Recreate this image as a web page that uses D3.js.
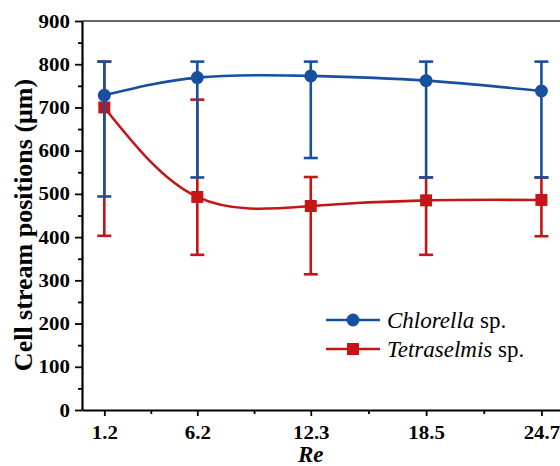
<!DOCTYPE html>
<html>
<head>
<meta charset="utf-8">
<script src="https://cdn.jsdelivr.net/npm/d3@7"></script>
</head>
<body style="margin:0">
<svg id="fig" width="560" height="466"></svg>
<script>
// Colours and font
const BLUE = "#17509f";
const RED = "#c41616";
const FONT = "Liberation Serif";

// Chart data
const reValues = [1.2, 6.2, 12.3, 18.5, 24.7];
const reLabels = ["1.2", "6.2", "12.3", "18.5", "24.7"];
const chlorellaMean = [728, 769, 773, 762, 738];
const chlorellaUpper = [806, 806, 806, 806, 806];
const chlorellaLower = [494, 538, 583, 538, 538];
const tetraMean = [700, 493, 472, 485, 486];
const tetraUpper = [806, 718, 539, 538, 538];
const tetraLower = [403, 359, 314, 359, 402];
const yTicks = [0, 100, 200, 300, 400, 500, 600, 700, 800, 900];

const W = 560;

const svg = d3.select("#fig");

// Scales (x runs past the right edge, like the cropped original)
const x = d3.scaleLinear().domain([0, 26]).range([82, 82 + 26 * 18.6]);
const y = d3.scaleLinear().domain([0, 900]).range([410, 21]);

// Top frame line
svg.append("line")
    .attr("x1", x(0)).attr("x2", W)
    .attr("y1", y(900)).attr("y2", y(900))
    .attr("stroke", "#333").attr("stroke-width", 1.3);

// Minor ticks
const yMinor = yTicks.slice(0, -1).map(d => d + 50);
svg.append("g")
    .attr("transform", `translate(${x(0)},0)`)
    .call(d3.axisLeft(y).tickValues(yMinor).tickSize(4).tickFormat(""))
    .call(g => g.select(".domain").remove())
    .selectAll("line").attr("stroke-width", 1.8);

const xMinor = d3.pairs(reValues).map(p => (p[0] + p[1]) / 2);
svg.append("g")
    .attr("transform", `translate(0,${y(0)})`)
    .call(d3.axisBottom(x).tickValues(xMinor).tickSize(4).tickFormat(""))
    .call(g => g.select(".domain").remove())
    .selectAll("line").attr("stroke-width", 1.8);

// Y axis
const yAxis = svg.append("g")
    .attr("transform", `translate(${x(0)},0)`)
    .call(d3.axisLeft(y).tickValues(yTicks).tickSize(7).tickSizeOuter(0).tickPadding(4));
yAxis.select(".domain").attr("stroke-width", 2.2);
yAxis.selectAll("line").attr("stroke-width", 1.8);
yAxis.selectAll("text")
    .attr("font-family", FONT)
    .attr("font-size", 19).attr("font-weight", "bold").attr("fill", "#000")
    .attr("transform", "scale(1.1,1)");

// X axis
const xAxis = svg.append("g")
    .attr("transform", `translate(0,${y(0)})`)
    .call(d3.axisBottom(x).tickValues(reValues).tickSize(6).tickSizeOuter(0)
        .tickPadding(10).tickFormat((d, i) => reLabels[i]));
xAxis.select(".domain").attr("stroke-width", 2.2);
xAxis.selectAll("line").attr("stroke-width", 1.8);
xAxis.selectAll("text")
    .attr("font-family", FONT)
    .attr("font-size", 19).attr("font-weight", "bold").attr("fill", "#000")
    .attr("transform", "scale(1.1,1)");

// Axis titles
svg.append("text")
    .attr("transform", `translate(32,225) rotate(-90)`)
    .attr("text-anchor", "middle")
    .attr("font-family", FONT)
    .attr("font-size", 26).attr("font-weight", "bold")
    .text("Cell stream positions (\u03bcm)");

svg.append("text")
    .attr("x", x(12.3)).attr("y", 462)
    .attr("text-anchor", "middle")
    .attr("font-family", FONT)
    .attr("font-size", 23).attr("font-weight", "bold").attr("font-style", "italic")
    .text("Re");

// Smooth line through the means
const curve = d3.line()
    .x(d => x(d.re))
    .y(d => y(d.v))
    .curve(d3.curveNatural);

function drawSeries(mean, upper, lower, color, marker) {
    const pts = reValues.map((re, i) => ({ re: re, v: mean[i], hi: upper[i], lo: lower[i] }));
    const g = svg.append("g");

    g.append("path")
        .datum(pts)
        .attr("d", curve)
        .attr("fill", "none")
        .attr("stroke", color)
        .attr("stroke-width", 2.6);

    // Error bars
    const bars = g.selectAll(".bar").data(pts).enter().append("g");
    bars.append("line")
        .attr("x1", d => x(d.re)).attr("x2", d => x(d.re))
        .attr("y1", d => y(d.hi)).attr("y2", d => y(d.lo))
        .attr("stroke", color).attr("stroke-width", 2.6);
    [d => y(d.hi), d => y(d.lo)].forEach(fy => {
        bars.append("line")
            .attr("x1", d => x(d.re) - 7).attr("x2", d => x(d.re) + 7)
            .attr("y1", fy).attr("y2", fy)
            .attr("stroke", color).attr("stroke-width", 2.6);
    });

    // Markers
    if (marker === "circle") {
        g.selectAll(".pt").data(pts).enter().append("circle")
            .attr("cx", d => x(d.re)).attr("cy", d => y(d.v))
            .attr("r", 6.5).attr("fill", color);
    } else {
        g.selectAll(".pt").data(pts).enter().append("rect")
            .attr("x", d => x(d.re) - 6).attr("y", d => y(d.v) - 6)
            .attr("width", 12).attr("height", 12).attr("fill", color);
    }
}

drawSeries(tetraMean, tetraUpper, tetraLower, RED, "square");
drawSeries(chlorellaMean, chlorellaUpper, chlorellaLower, BLUE, "circle");

// Legend
const legendItems = [
    { name: "Chlorella", color: BLUE, marker: "circle" },
    { name: "Tetraselmis", color: RED, marker: "square" }
];
const legend = svg.selectAll(".legend").data(legendItems).enter().append("g")
    .attr("transform", (d, i) => `translate(326,${320 + i * 29})`);
legend.append("line")
    .attr("x1", 0).attr("x2", 54)
    .attr("stroke", d => d.color).attr("stroke-width", 2.6);
legend.filter(d => d.marker === "circle").append("circle")
    .attr("cx", 27).attr("r", 6.5).attr("fill", d => d.color);
legend.filter(d => d.marker === "square").append("rect")
    .attr("x", 21).attr("y", -6).attr("width", 12).attr("height", 12)
    .attr("fill", d => d.color);
const lt = legend.append("text")
    .attr("x", 61).attr("y", 7.5)
    .attr("font-family", FONT)
    .attr("font-size", 23);
lt.append("tspan").attr("font-style", "italic").text(d => d.name);
lt.append("tspan").text(" sp.");
</script>
</body>
</html>
